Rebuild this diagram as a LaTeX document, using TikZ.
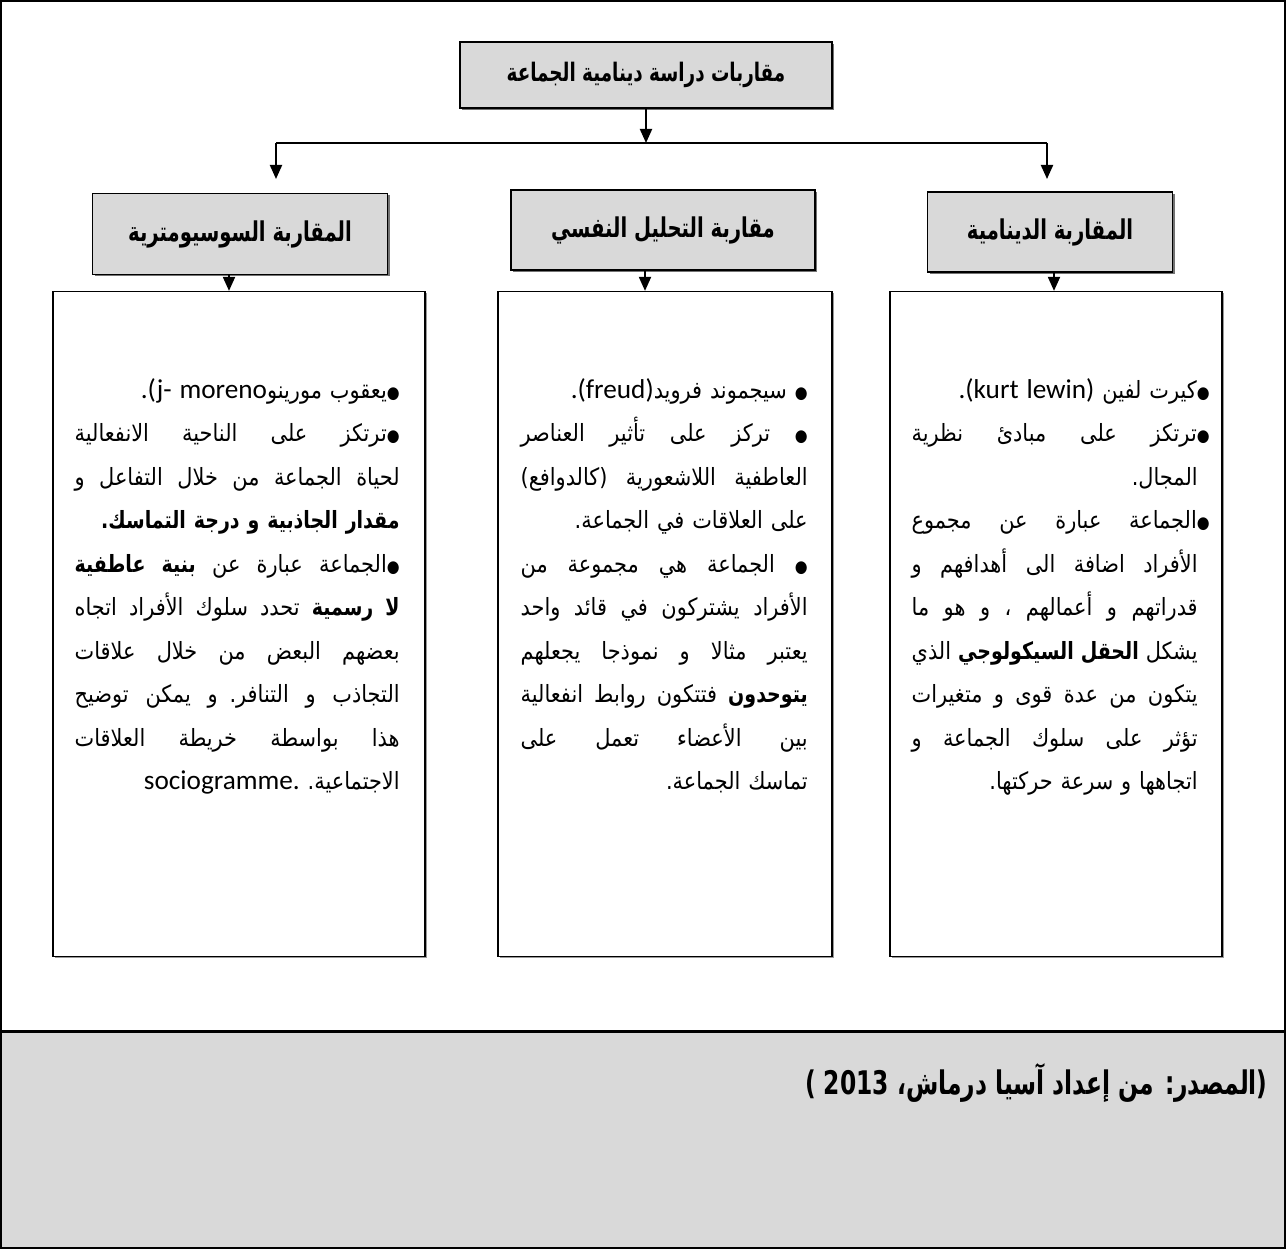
\documentclass[tikz,border=0pt]{standalone}
\usepackage{fontspec}
\usetikzlibrary{positioning,arrows.meta,shadows}
\TeXXeTstate=1
\newfontfamily\arb[Script=Arabic,FakeStretch=0.88,BoldFeatures={FakeStretch=0.8}]{DejaVu Sans}
\newfontfamily\arbh[Script=Arabic,FakeStretch=0.72]{DejaVu Sans Bold}
\newfontfamily\latin{Carlito}
\definecolor{boxgray}{RGB}{217,217,217}
\newlength{\pxu}\setlength{\pxu}{0.2mm}
% one line of a column: justified, or set to the right
\newcommand{\jl}[1]{\hbox to \hsize{\spaceskip=0.3em plus 1fil #1}}
\newcommand{\el}[1]{\hbox to \hsize{\hfil #1}}
\newcommand{\elx}[2]{\hbox to \hsize{\hfil{\latin\fontsize{15.5}{15}\selectfont #1}#2}}
\newcommand{\bul}{{\fontsize{9.5}{9}\selectfont ●}}
\newcommand{\hng}{\kern12\pxu}

\begin{document}
\begin{tikzpicture}[x=0.2mm, y=-0.2mm,
		hdr/.style={draw, line width=0.3mm, fill=boxgray, drop shadow={shadow xshift=0.4mm, shadow yshift=-0.4mm, fill=black!55, opacity=1}},
		col/.style={draw, line width=0.25mm, fill=white, drop shadow={shadow xshift=0.3mm, shadow yshift=-0.3mm, fill=black!40, opacity=1}},
		coltext/.style={inner sep=0pt, anchor=north east, font=\arb\fontsize{13.5}{8.7mm}\selectfont},
		arr/.style={line width=0.4mm, -{Triangle[length=2.8mm, width=2.4mm]}}]
		\useasboundingbox (0,0) rectangle (1286,1249);
		% frame and source strip
		\fill[boxgray] (1,1031) rectangle (1285,1248);
		\draw[line width=0.3mm] (1,1) rectangle (1285,1248);
		\draw[line width=0.6mm] (1,1031) -- (1285,1031);
		
		\begin{scope}[every node/.style={hdr, inner sep=0pt}]
			\node[minimum width=372\pxu, minimum height=66\pxu, font=\arbh\fontsize{14.5}{16}\selectfont] (title) at (646,75) {\beginR مقاربات دراسة دينامية الجماعة\endR};
			\node[minimum width=295\pxu, minimum height=81\pxu, font=\arbh\fontsize{15.5}{18}\selectfont] (lhead) at (240,234) {\beginR المقاربة السوسيومترية\endR};
			\node[minimum width=304\pxu, minimum height=80\pxu, font=\arbh\fontsize{15.5}{18}\selectfont] (mhead) at (663,230) {\beginR مقاربة التحليل النفسي\endR};
			\node[minimum width=245\pxu, minimum height=80\pxu, font=\arbh\fontsize{15.5}{18}\selectfont] (rhead) at (1050,232) {\beginR المقاربة الدينامية\endR};
		\end{scope}
		\begin{scope}[every node/.style={col}]
			\node[minimum width=372\pxu, minimum height=665\pxu] (lcol) at (239,624) {};
			\node[minimum width=334\pxu, minimum height=665\pxu] (mcol) at (665,624) {};
			\node[minimum width=332\pxu, minimum height=665\pxu] (rcol) at (1056,624) {};
		\end{scope}
		
		\coordinate (hub) at (646,143);
		\coordinate (lbr) at (276,143);
		\coordinate (rbr) at (1047,143);
		\coordinate (lend) at (276,179);
		\coordinate (rend) at (1047,179);
		\draw[line width=0.4mm] (lbr) -- (rbr);
		\draw[arr] (title) -- (hub);
		\draw[arr] (lbr) -- (lend);
		\draw[arr] (rbr) -- (rend);
		\draw[arr] ([xshift=-11\pxu]lhead.south) -- ([xshift=-11\pxu]lhead.south |- lcol.north);
		\draw[arr] ([xshift=-18\pxu]mhead.south) -- ([xshift=-18\pxu]mhead.south |- mcol.north);
		\draw[arr] ([xshift=4\pxu]rhead.south) -- ([xshift=4\pxu]rhead.south |- rcol.north);
		
		% column texts
		\node[coltext, text width=298\pxu] (rtxt) at (1210,378) {%
			\elx{.(kurt lewin)\ }{\beginR\bul كيرت لفين\endR}
			\jl{\beginR\bul ترتكز على مبادئ نظرية\endR}
			\el{\beginR\hng المجال.\endR}
			\jl{\beginR\bul الجماعة عبارة عن مجموع\endR}
			\jl{\beginR\hng الأفراد اضافة الى أهدافهم و\endR}
			\jl{\beginR\hng قدراتهم و أعمالهم ، و هو ما\endR}
			\jl{\beginR\hng يشكل {\bfseries الحقل السيكولوجي} الذي\endR}
			\jl{\beginR\hng يتكون من عدة قوى و متغيرات\endR}
			\jl{\beginR\hng تؤثر على سلوك الجماعة و\endR}
			\el{\beginR\hng اتجاهها و سرعة حركتها.\endR}};
		\node[coltext, text width=287\pxu] (mtxt) at (808,378) {%
			\elx{.(freud)}{\beginR\bul\ سيجموند فرويد\endR}
			\jl{\beginR\bul\ تركز على تأثير العناصر\endR}
			\jl{\beginR العاطفية اللاشعورية (كالدوافع)\endR}
			\el{\beginR على العلاقات في الجماعة.\endR}
			\jl{\beginR\bul\ الجماعة هي مجموعة من\endR}
			\jl{\beginR الأفراد يشتركون في قائد واحد\endR}
			\jl{\beginR يعتبر مثالا و نموذجا يجعلهم\endR}
			\jl{\beginR{\bfseries يتوحدون} فتتكون روابط انفعالية\endR}
			\jl{\beginR بين الأعضاء تعمل على\endR}
			\el{\beginR تماسك الجماعة.\endR}};
		\node[coltext, text width=325\pxu] (ltxt) at (400,378) {%
			\elx{.(j- moreno}{\beginR\bul يعقوب مورينو\endR}
			\jl{\beginR\bul ترتكز على الناحية الانفعالية\endR}
			\jl{\beginR لحياة الجماعة من خلال التفاعل و\endR}
			\el{\beginR{\bfseries مقدار الجاذبية و درجة التماسك.}\endR}
			\jl{\beginR\bul الجماعة عبارة عن {\bfseries بنية عاطفية}\endR}
			\jl{\beginR{\bfseries لا رسمية} تحدد سلوك الأفراد اتجاه\endR}
			\jl{\beginR بعضهم البعض من خلال علاقات\endR}
			\jl{\beginR التجاذب و التنافر. و يمكن توضيح\endR}
			\jl{\beginR هذا بواسطة خريطة العلاقات\endR}
			\elx{sociogramme.\ }{\beginR الاجتماعية.\endR}};
		
		\node[anchor=east, inner sep=0pt, font=\arbh\fontsize{18.5}{21}\selectfont] (src) at (1268,1083) {\beginR (المصدر: من إعداد آسيا درماش، 2013 )\endR};
	\end{tikzpicture}
\end{document}
